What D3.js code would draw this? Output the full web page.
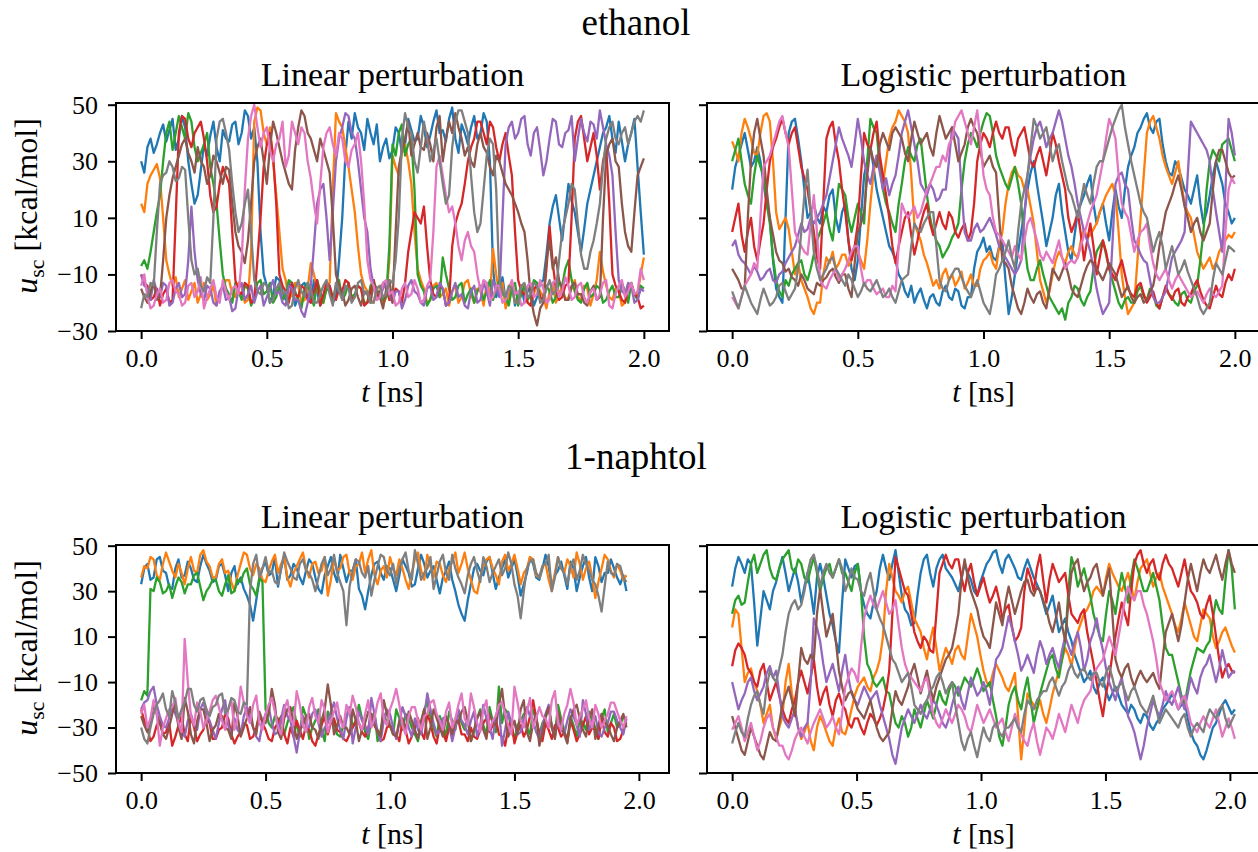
<!DOCTYPE html>
<html>
<head>
<meta charset="utf-8">
<script src="https://cdn.jsdelivr.net/npm/d3@7"></script>
<style>
  body { margin: 0; background: #fff; }
  text { font-family: "Liberation Serif", "Times New Roman", serif; fill: #000; }
</style>
</head>
<body>
<div id="chart"></div>
<script>
// tab10, in plotting order: blue, orange, green, red, purple, brown, pink, gray
const colors = ["#1f77b4", "#ff7f0e", "#2ca02c", "#d62728", "#9467bd", "#8c564b", "#e377c2", "#7f7f7f"];

const molecules = ["ethanol", "1-naphtol"];
const titles = ["Linear perturbation", "Logistic perturbation"];
const xTicks = [0, 0.5, 1.0, 1.5, 2.0];
const yTicksEthanol = [-30, -10, 10, 30, 50];
const yTicksNaphtol = [-50, -30, -10, 10, 30, 50];

// u_sc [kcal/mol], one row per replica, sampled every 0.0125 ns from 0 to 2.0 ns
const ethanolLinear = [
  [30,26,35,38,33,36,40,43,37,41,45,34,38,46,42,30,22,15,18,27,36,32,39,44,35,30,41,38,37,43,44,36,40,48,46,38,42,30,5,-10,-14,-20,-17,-11,-12,-16,-19,-13,-15,-21,-18,-14,-13,-17,-20,-12,-16,-21,-19,-15,-14,-20,-18,-5,10,32,44,38,47,42,40,34,45,40,36,43,30,35,38,31,34,42,40,33,36,45,41,37,38,46,42,35,39,44,48,40,41,37,45,49,38,33,43,40,36,42,46,38,40,47,44,30,-8,-18,-15,-11,-19,-16,-13,-21,-17,-14,-20,-16,-14,-21,-18,-13,-12,-3,8,14,18,10,2,12,22,16,12,5,-2,6,15,20,25,30,35,40,42,46,38,33,44,37,30,36,40,45,28,12,-3],
  [15,12,22,25,27,29,24,10,-5,-10,-14,-11,-18,-15,-12,-19,-16,-13,-20,-17,-13,-19,-17,-14,-21,-16,-15,-12,-12,-17,-18,-13,-14,-20,-19,-2,44,49,48,40,36,42,30,18,5,-8,-12,-19,-17,-13,-14,-20,-19,-15,-6,-10,-15,-18,-20,-14,-13,20,47,44,42,35,28,20,12,0,-10,-14,-16,-19,-20,-15,-14,-21,-18,-5,32,28,25,33,36,30,22,5,-8,-12,-15,-20,-19,-14,-13,-18,-17,-15,-21,-16,-14,-20,-18,-13,-12,-17,-20,-15,-16,-21,-13,-18,-1,-10,-17,-13,-22,-18,-14,-20,-19,-14,-15,-20,-21,-17,-13,-16,-18,-22,-16,-13,-20,-17,-14,-19,-18,-15,-12,-18,-19,-14,-15,-21,-17,-12,-2,-9,-14,-18,-19,-15,-16,-21,-20,-14,-13,-17,-17,-10,-4],
  [-7,-5,-8,-2,5,12,18,30,40,44,34,40,46,42,38,47,44,35,30,33,36,40,28,22,15,2,-10,-15,-17,-20,-13,-16,-19,-14,-15,-21,-18,-13,-12,-17,-16,-13,-20,-18,-14,-19,-17,-12,-13,-16,-19,-22,-15,-13,-18,-21,-12,-16,-20,-15,-16,-19,-14,-12,-19,-17,-13,-18,-17,-14,-15,-20,-20,-14,-12,-17,-16,-19,-18,0,36,32,40,43,32,36,38,20,-10,-14,-16,-21,-19,-15,-14,-18,-4,-10,-15,-19,-18,-14,-13,-20,-17,-15,-20,-16,-14,-19,-16,-12,-19,-15,-12,-17,-18,-21,-15,-13,-21,-17,-14,-19,-17,-12,-13,-18,-19,-14,-16,-20,-18,-13,-14,-8,-5,-12,-16,-19,-20,-15,-13,-18,-17,-14,-15,-20,-19,-16,-14,-18,-18,-13,-16,-20,-13,-17,-19,-14,-15],
  [-10,-13,-14,-19,-18,-15,-21,-17,-15,-20,-19,10,40,46,45,38,35,40,42,44,38,30,18,12,14,22,28,25,22,5,-12,-16,-17,-13,-14,-20,-19,-5,10,28,36,40,32,15,-10,-14,-16,-20,-13,-17,-18,-14,-15,-19,-20,-16,-12,-21,-17,-13,-14,-18,-19,-15,-16,-12,-13,-19,-18,-14,-15,-21,-20,-16,-12,-18,-17,-13,-14,-19,-19,-15,-16,-20,-13,-2,5,12,10,8,14,0,-12,-17,-18,-14,-15,-21,-20,0,8,12,15,22,30,35,38,44,44,40,36,44,42,35,30,36,40,32,25,5,-12,-16,-17,-20,-21,-15,-14,-18,-19,-8,7,-6,-15,-19,-18,-14,-13,10,38,44,46,38,30,35,40,32,20,30,35,15,-10,-14,-16,-19,-20,-15,-14,-17,-18,-22,-21],
  [-10,-14,-15,-19,-12,-16,-18,-13,-14,-21,-20,-15,-13,-18,-17,-5,14,-2,-12,-17,-19,-14,-15,-20,-21,-16,-14,-19,-18,-23,-22,-15,-13,-19,-17,-14,-20,-16,-14,-21,-18,-15,-12,-17,-16,-20,-21,-14,-15,-19,-19,-23,-25,-20,-14,0,15,20,22,10,-5,12,30,38,42,47,46,40,38,30,20,10,5,-8,-14,-19,-18,-15,-13,-17,-20,-16,-16,-22,-19,-14,-12,-16,-17,-20,-21,-15,-14,-19,-18,-13,-15,-21,-20,-16,-13,-18,-17,-21,-22,-16,-14,-20,-19,-13,-16,-21,-12,-15,-18,10,36,42,44,38,40,45,46,36,32,40,42,34,25,30,38,45,44,36,35,40,41,46,30,38,45,40,37,44,43,38,48,42,36,32,25,5,-12,-16,-17,-13,-14,-20,-19,-15,-16],
  [-15,-18,-20,-16,-13,-19,-18,-5,10,18,24,28,32,36,38,33,30,26,35,30,28,22,25,32,30,26,22,28,27,15,5,0,-2,-6,2,15,30,35,38,30,22,35,44,40,35,30,26,22,20,34,42,48,46,40,38,34,30,38,34,30,26,10,-10,-14,-16,-21,-19,-15,-14,-18,-21,-16,-17,-20,-13,-15,-18,-22,-15,-12,-20,5,28,34,38,44,32,36,40,35,34,40,36,30,42,46,30,38,44,40,47,42,38,32,35,30,28,36,40,35,33,28,25,32,30,26,22,20,18,15,12,8,5,-5,-18,-24,-28,-22,-20,-5,2,-8,-4,-12,-15,-19,-19,-14,-13,-17,-17,-20,-21,-16,-14,-19,-18,10,32,36,38,30,28,15,5,0,-2,12,25,28,31],
  [-14,-10,-18,-22,-21,-17,-15,-20,-19,-13,-12,-16,-17,-21,-20,-14,-13,-18,-16,-11,-22,-18,-15,-12,-18,-20,-12,-16,-19,-15,-14,-17,-5,20,38,46,50,42,35,40,42,34,30,36,38,44,28,32,44,40,36,42,40,30,24,15,8,22,35,40,42,36,32,40,38,30,28,34,36,40,30,15,-5,-12,-14,-19,-18,-13,-12,-17,-16,-21,-20,-15,-13,-18,-17,-12,-15,-20,-19,-14,-12,5,28,32,25,18,12,14,8,0,-5,2,5,0,-2,-10,-16,-12,-13,-19,-18,-14,-14,-20,-19,-15,-12,-17,-16,-21,-20,-14,-13,-18,-17,-12,-15,-20,-19,-13,-12,-18,-16,-11,-14,-19,-18,-14,-13,-18,-20,-16,-15,-19,-17,-13,-12,-21,-22,-17,-14,-12,-18,-16,-13,-17,-16,-8,-12],
  [-22,-17,-18,-13,-14,5,22,25,26,30,28,23,24,28,27,10,-5,-10,-8,-14,-16,-11,-13,10,38,44,45,40,34,22,12,5,8,15,20,5,-12,-16,-17,-13,-14,-20,-19,-15,-13,-17,-16,-22,-21,-15,-12,-16,-18,-13,-15,-20,-20,-17,-14,-12,-17,-21,-13,-16,-19,-14,-15,-20,-18,-13,-12,-17,-16,-20,-20,-15,-14,-18,-17,-12,-13,-5,10,38,47,42,40,30,26,35,44,38,30,34,38,30,22,15,18,35,44,48,48,44,40,25,12,5,8,20,32,38,36,20,-12,-16,-18,-14,-15,-20,-20,-14,-13,-18,-17,-13,-14,-20,-19,-15,-12,-17,-16,-5,5,10,15,22,20,8,-3,-8,-8,-2,2,8,15,28,38,42,44,38,36,40,42,36,40,44,46,44,48]
];

const ethanolLogistic = [
  [20,28,32,36,40,34,28,30,35,30,22,15,10,-5,-15,-18,-20,10,40,44,45,38,30,20,10,12,15,10,8,14,12,18,20,10,5,12,15,2,-8,-12,-5,10,25,30,35,28,20,15,10,5,0,-2,-5,-10,-12,-16,-18,-14,-20,-17,-15,-19,-22,-18,-17,-20,-21,-16,-14,-18,-19,-15,-16,-21,-22,-18,-18,-8,-2,0,3,-2,0,-4,-5,0,2,-12,-24,-18,-10,-2,5,12,20,26,30,22,15,8,0,5,10,18,22,12,5,-2,-5,4,12,15,18,22,25,15,8,12,15,8,2,12,20,14,10,20,28,32,35,40,42,45,47,42,40,44,45,36,30,26,25,30,28,24,20,18,15,20,25,15,8,12,18,25,30,26,22,15,12,8,10],
  [37,34,30,40,45,42,38,33,32,40,46,47,44,30,12,6,8,10,6,-2,-10,-6,-12,-15,-18,-22,-24,-20,-20,-10,-4,-6,-2,-8,-6,-3,-3,-7,-5,0,-2,-5,-8,2,15,26,32,28,22,30,38,42,44,48,46,44,40,25,8,5,2,-3,-6,-10,-14,-12,-15,-10,-8,-12,-10,-14,-12,-9,-15,-13,-10,-14,-14,-8,-5,-4,-2,-6,-8,0,5,15,22,26,28,25,24,20,20,14,8,-2,-12,-16,-20,-16,-10,-5,-2,-4,-6,-2,0,-3,-4,2,6,3,4,6,8,12,15,18,20,22,18,5,-10,-18,-24,-22,-20,-5,10,25,40,44,46,42,38,32,28,25,22,26,30,22,15,12,10,4,-2,-5,-8,-6,-4,-8,-6,-2,0,2,4,3,5],
  [30,34,38,30,22,18,15,25,32,28,25,15,8,-4,-12,-16,-18,-12,-14,-10,-8,-6,-5,-10,-12,-8,-3,2,5,8,12,6,2,12,22,20,18,10,5,10,15,12,8,30,45,42,40,28,20,15,12,8,5,15,22,30,35,32,30,36,38,28,18,10,5,2,0,-4,-2,0,3,5,8,20,30,36,40,38,35,40,44,47,46,40,32,28,25,22,20,24,28,22,15,2,-8,-12,-12,-8,-5,-10,-14,-18,-20,-22,-24,-22,-26,-20,-18,-14,-15,-19,-21,-18,-16,-8,-2,0,2,-3,-8,-12,-16,-20,-22,-19,-18,-20,-20,-16,-14,-18,-19,-15,-17,-21,-22,-18,-15,-17,-18,-20,-21,-17,-16,-19,-20,-16,-14,-5,5,20,30,34,32,30,36,37,38,34,30],
  [5,10,15,4,-2,5,10,0,-5,2,8,20,30,35,38,42,45,40,36,40,42,35,28,24,20,12,5,-4,-8,15,38,42,44,36,30,20,12,2,-5,0,8,25,40,36,34,40,44,32,25,18,10,0,-6,0,5,10,12,4,-3,2,8,12,15,8,4,8,12,8,6,12,10,5,3,6,8,2,5,15,30,36,40,38,35,40,44,40,38,42,42,36,32,38,40,42,36,30,28,32,35,30,25,32,40,36,30,25,20,10,5,8,12,4,-5,2,8,0,-10,-4,2,-2,-8,-10,-12,-8,-5,-10,-15,-17,-18,-14,-13,-17,-20,-18,-16,-20,-22,-18,-14,-17,-19,-16,-15,-20,-21,-18,-17,-14,-12,-16,-19,-21,-22,-18,-14,-17,-18,-13,-10,-12,-8],
  [0,2,-3,-5,-6,-8,-10,-7,-9,-12,-11,-9,-8,-12,-13,-10,-9,-6,-4,-2,0,4,8,5,6,10,8,10,12,15,18,24,30,36,42,38,35,32,28,36,45,38,30,25,22,28,32,26,20,24,18,22,25,32,40,44,48,42,36,30,22,20,18,22,20,16,17,20,20,30,42,40,38,20,5,2,2,6,8,5,6,8,10,7,4,0,-2,-4,-6,-8,-10,-8,-5,10,25,32,38,42,44,40,35,38,40,44,48,44,38,32,28,22,15,10,5,2,-2,-8,-15,-20,-24,-22,-20,0,22,25,26,22,20,10,2,0,-3,-5,-6,-12,-18,-20,-20,-18,-16,-10,-4,-2,0,2,5,25,44,42,40,38,36,34,30,20,12,5,-2,20,45,40,32],
  [-8,-10,-12,-15,-15,10,30,40,45,38,32,20,10,4,-2,-5,-6,-9,-8,-11,-12,-14,-10,-12,-15,-16,-17,-13,-14,-12,-11,-9,-8,-11,-13,-10,-10,-15,-18,-6,5,8,12,25,35,30,28,36,40,37,34,40,42,40,38,33,30,38,44,40,36,38,40,35,32,40,46,42,38,40,42,36,30,33,36,42,45,42,40,34,28,30,32,28,26,10,-5,-6,-8,-14,-18,-22,-24,-20,-15,-18,-20,-17,-16,-20,-22,-15,-8,-10,-12,-9,-6,-10,-15,-17,-18,-14,-10,-7,-5,-6,-8,-10,-12,-9,-6,-8,-10,-14,-18,-16,-14,-18,-20,-18,-17,-20,-19,-16,-14,-8,0,6,12,15,18,22,25,20,14,10,5,8,10,5,2,5,8,20,30,34,34,30,26,24,25],
  [-18,-20,-22,-18,-14,-12,-10,-6,-8,10,28,30,32,36,40,44,46,40,35,20,5,2,0,-2,-3,8,18,5,-12,-14,-15,-12,-10,-8,-12,-10,-8,-5,-2,0,0,-8,-14,-12,-12,-15,-17,-16,-15,-18,-18,-14,-16,0,15,12,10,12,14,10,12,16,20,22,25,28,28,32,30,36,38,44,46,48,44,40,36,42,48,38,25,20,18,10,5,4,2,0,-2,-4,0,-3,-5,2,8,10,6,2,-3,-5,-2,-4,-6,-2,2,-4,-8,-6,-5,-6,-4,0,4,8,12,15,18,24,30,38,45,42,38,25,15,12,10,4,-2,2,5,6,8,0,-6,-10,-12,-10,-8,-12,-15,-12,-10,-12,-14,-16,-18,-17,-16,-18,-20,-17,-15,-17,-18,-16,-14,5,20,24,22],
  [-16,-19,-22,-18,-14,-17,-20,-22,-24,-19,-15,-18,-21,-20,-18,-14,-13,-16,-19,-17,-15,-8,5,18,27,12,-2,-8,-12,-10,-8,-5,-4,-8,-10,-12,-14,-10,-12,-15,-18,-16,-13,-15,-16,-14,-12,-15,-18,-17,-15,-18,-20,-16,-12,-11,-10,0,8,6,5,8,10,12,12,0,-12,-15,-16,-12,-10,-8,-8,-11,-14,-16,-18,-15,-12,-16,-20,-22,-24,-18,-10,-8,-5,-2,2,-4,-8,5,15,20,25,35,45,42,38,40,42,36,30,34,36,30,25,20,18,14,10,16,22,18,15,22,28,30,30,34,38,42,45,48,50,42,36,30,25,20,15,12,10,4,-2,2,5,0,-8,-4,0,-5,-10,-8,-5,-9,-12,-15,-18,-22,-24,-22,-20,-12,-6,-8,-10,-5,0,-1,-2]
];

// sampled every 0.0125 ns from 0 to 1.95 ns
const naphtolLinear = [
  [33,40,42,35,36,44,45,39,38,32,31,40,44,36,37,43,40,35,34,41,46,42,39,34,35,41,42,37,30,38,41,33,36,31,28,24,17,26,35,40,43,37,38,45,32,40,45,35,37,42,40,36,33,39,44,42,36,31,29,37,41,45,38,34,46,40,34,39,39,44,31,28,22,30,37,42,43,38,35,41,40,35,30,37,44,41,38,32,33,40,46,42,36,39,41,35,29,36,39,43,35,30,24,20,17,26,33,40,42,39,37,43,45,38,31,36,40,44,36,40,44,37,28,33,38,45,42,36,35,40,46,41,32,37,39,43,37,31,43,40,30,36,41,45,36,30,45,41,34,38,38,44,40,36,33,37,30],
  [36,41,40,45,44,37,35,42,47,43,39,36,42,38,33,40,45,39,38,46,48,43,41,36,36,42,44,38,39,34,30,37,42,47,46,40,37,42,40,35,34,39,43,46,38,42,45,36,32,38,41,44,47,40,36,42,43,38,39,45,28,35,44,39,40,45,46,38,35,41,42,47,38,44,48,37,33,39,41,36,45,40,37,44,40,35,31,38,44,47,39,35,46,41,36,43,42,37,34,40,43,47,38,42,47,40,35,30,29,36,41,44,45,40,37,33,43,46,39,42,46,40,33,38,40,45,44,37,36,41,42,35,30,38,45,40,38,44,41,36,47,42,35,40,43,36,27,34,40,46,44,39,36,42,39,35,37],
  [-18,-14,-16,31,30,36,34,29,30,33,27,32,36,34,29,33,33,37,38,32,26,30,32,35,35,30,28,33,37,29,30,35,34,38,40,33,31,28,36,34,-22,-28,-30,-25,-26,-33,-33,-28,-24,-21,-29,-34,-21,-25,-35,-30,-27,-22,-31,-36,-23,-27,-28,-33,-34,-29,-25,-21,-30,-27,-20,-26,-32,-35,-27,-23,-36,-31,-24,-28,-29,-33,-22,-26,-31,-24,-26,-30,-33,-36,-28,-22,-19,-25,-30,-34,-25,-29,-34,-23,-27,-31,-23,-28,-31,-25,-36,-32,-26,-22,-29,-33,-21,-27,-32,-12,-28,-22,-24,-30,-35,-29,-27,-24,-30,-33,-22,-26,-33,-28,-26,-21,-29,-34,-20,-26,-31,-36,-25,-29,-34,-26,-28,-31,-23,-27,-30,-35,-26,-22,-32,-28,-24,-30,-29,-25,-27],
  [-22,-27,-30,-36,-34,-29,-27,-33,-32,-28,-38,-34,-29,-25,-33,-36,-25,-30,-36,-33,-31,-26,-28,-35,-35,-31,-30,-24,-26,-33,-37,-34,-32,-28,-29,-35,-34,-30,-24,-28,-31,-35,-36,-30,-28,-25,-33,-37,-30,-34,-27,-31,-35,-29,-31,-36,-38,-33,-29,-25,-33,-28,-26,-31,-32,-35,-36,-33,-30,-27,-28,-32,-34,-30,-25,-29,-31,-36,-35,-30,-29,-32,-33,-36,-27,-31,-37,-34,-30,-26,-32,-35,-24,-28,-34,-37,-29,-32,-36,-30,-31,-26,-27,-33,-33,-36,-30,-34,-35,-31,-28,-26,-32,-29,-26,-33,-34,-38,-30,-27,-37,-32,-29,-34,-31,-25,-18,-26,-33,-36,-28,-31,-35,-29,-30,-34,-32,-36,-27,-31,-36,-33,-29,-25,-33,-30,-31,-35,-26,-32,-34,-28,-30,-36,-35,-31,-28],
  [-22,-19,-18,-14,-12,-20,-25,-29,-30,-26,-20,-24,-28,-32,-34,-27,-24,-29,-31,-22,-19,-24,-27,-31,-35,-28,-22,-18,-29,-33,-26,-31,-33,-25,-21,-26,-30,-34,-36,-28,-24,-21,-28,-33,-32,-26,-20,-25,-27,-34,-41,-32,-25,-29,-30,-24,-22,-28,-34,-30,-28,-23,-19,-26,-31,-35,-26,-21,-37,-30,-23,-27,-29,-33,-17,-24,-32,-36,-27,-22,-24,-30,-35,-28,-21,-25,-30,-34,-26,-31,-33,-25,-15,-22,-28,-33,-31,-26,-25,-29,-36,-30,-22,-27,-29,-33,-27,-23,-34,-29,-20,-26,-30,-35,-25,-21,-38,-31,-23,-28,-28,-33,-32,-26,-21,-25,-27,-32,-35,-29,-24,-20,-30,-34,-26,-31,-33,-27,-22,-25,-29,-34,-18,-24,-31,-27,-25,-32,-34,-30,-28,-23,-23,-27,-30,-33,-26],
  [-25,-29,-32,-27,-20,-24,-28,-33,-35,-30,-24,-19,-30,-35,-17,-23,-33,-37,-27,-22,-22,-28,-36,-31,-29,-24,-25,-30,-31,-35,-19,-25,-34,-30,-26,-21,-30,-33,-23,-27,-28,-24,-13,-20,-32,-35,-26,-22,-21,-28,-35,-31,-29,-25,-24,-30,-31,-35,-27,-22,-11,-20,-33,-29,-25,-30,-30,-33,-22,-27,-36,-31,-28,-23,-24,-29,-32,-34,-18,-24,-29,-33,-34,-27,-26,-31,-23,-27,-31,-35,-27,-22,-35,-30,-22,-26,-30,-34,-25,-29,-33,-27,-28,-23,-21,-27,-36,-31,-26,-23,-31,-35,-24,-28,-29,-20,-13,-25,-34,-30,-27,-33,-22,-18,-32,-36,-28,-24,-38,-32,-25,-21,-30,-35,-23,-28,-33,-37,-27,-22,-20,-26,-31,-34,-26,-22,-35,-29,-24,-28,-29,-33,-36,-30,-27,-24,-30],
  [-24,-20,-30,-26,-18,-24,-38,-30,-26,-22,-21,-17,-28,-32,9,-10,-25,-29,-19,-23,-30,-27,-23,-18,-16,-21,-27,-31,-22,-18,-31,-26,-12,-19,-25,-28,-20,-16,-28,-31,-24,-20,-17,-23,-30,-33,-22,-18,-26,-29,-14,-20,-29,-32,-21,-17,-25,-28,-18,-22,-32,-27,-23,-19,-27,-30,-20,-24,-16,-21,-28,-31,-24,-18,-30,-26,-19,-15,-26,-29,-22,-18,-13,-20,-29,-33,-25,-21,-21,-27,-31,-25,-24,-19,-18,-24,-27,-31,-23,-19,-30,-26,-20,-15,-26,-29,-15,-21,-28,-32,-22,-18,-31,-27,-25,-20,-19,-24,-29,-33,-12,-19,-27,-30,-23,-17,-30,-26,-21,-25,-26,-30,-18,-14,-28,-31,-24,-20,-13,-19,-29,-25,-22,-18,-26,-30,-20,-24,-30,-27,-24,-19,-19,-23,-27,-30,-25],
  [-30,-35,-37,-30,-24,-20,-18,-15,-22,-25,-14,-19,-26,-22,-19,-13,-13,-20,-23,-18,-17,-22,-25,-21,-20,-16,-15,-24,-22,-17,-18,-23,-24,-19,-20,30,42,46,36,40,45,38,39,34,33,40,47,43,40,36,35,42,44,39,38,35,30,36,42,45,37,40,46,38,34,30,15,32,39,44,43,38,36,41,28,35,41,46,45,39,37,42,33,40,44,47,39,35,48,42,35,38,40,45,31,37,43,46,38,35,46,40,36,33,29,37,42,45,39,34,45,41,34,38,41,44,37,40,47,42,33,28,18,30,40,43,44,38,36,41,42,46,30,36,45,40,38,33,41,44,35,39,46,42,39,35,33,28,21,32,43,38,37,42,41,36,34]
];

// 161 samples from 0 to 2.02 ns
const naphtolLogistic = [
  [32,40,45,42,38,44,42,25,6,18,30,26,22,30,34,40,45,38,30,35,40,34,25,32,38,30,20,36,42,36,28,20,15,8,3,25,44,40,36,41,42,30,24,20,18,25,30,40,46,40,35,42,48,38,28,22,20,15,16,28,38,44,46,38,32,40,44,46,40,38,36,33,30,36,42,38,35,30,28,34,38,42,44,47,48,42,38,44,46,43,40,36,35,40,44,40,36,33,30,25,20,24,28,20,12,15,18,12,8,2,-2,-6,-10,-8,-5,-12,-15,-10,-8,-14,-18,-15,-12,-16,-20,-22,-24,-20,-22,-26,-28,-24,-25,-29,-31,-28,-26,-22,-20,-18,-15,-18,-22,-20,-18,-26,-32,-36,-38,-42,-44,-40,-35,-30,-28,-24,-20,-18,-21,-24,-22],
  [14,22,20,5,-10,-6,-4,-10,-14,-20,-28,-24,-20,-30,-35,-30,-25,-10,-2,-15,-22,-30,-35,-32,-28,-36,-40,-30,-25,-28,-32,-36,-38,-30,-26,-32,-33,-28,-22,-16,-12,-10,-8,-12,-14,-8,-5,0,10,30,42,36,30,28,25,30,32,25,18,15,12,5,0,8,14,5,-5,0,5,2,-2,4,6,2,0,10,20,15,10,2,-5,-10,-12,-6,-2,-5,-8,-12,-14,-10,-6,-25,-44,-30,-15,-18,-20,-22,-18,-24,-28,-22,-15,-10,-5,0,5,2,-3,5,12,16,20,22,25,30,32,30,28,36,42,38,35,32,30,34,38,32,26,34,40,42,44,38,32,36,38,32,28,24,20,15,12,18,25,20,15,10,8,15,22,20,18,10,5,8,12,14,10,6,3],
  [20,26,28,24,25,34,42,46,38,42,46,48,40,36,35,40,44,46,48,40,38,44,42,36,34,40,45,38,30,36,40,42,36,40,44,38,38,34,30,38,42,30,10,-2,-5,-10,-12,-10,-8,-14,-15,-22,-28,-30,-25,-28,-34,-30,-22,-26,-30,-24,-18,-22,-26,-20,-14,-18,-20,-14,-10,-12,-16,-12,-8,-10,-12,-8,-4,-8,-14,-12,-10,-18,-25,-34,-38,-30,-20,-15,-12,-18,-22,-14,-8,-18,-28,-22,-15,-10,-5,0,2,-4,-8,0,8,30,45,40,32,36,40,34,28,20,15,10,8,20,30,26,20,30,38,32,25,36,44,40,35,30,30,34,38,32,26,15,5,2,2,-4,-10,-16,-20,-12,-5,0,5,4,3,6,8,18,26,22,20,35,48,40,22],
  [-3,4,7,5,2,-4,-6,-10,-12,-5,-2,-10,-18,-14,-10,-16,-22,-26,-28,-22,-18,-10,-5,-10,-15,-8,0,-12,-20,-15,-12,-20,-25,-18,-15,-20,-22,-28,-30,-26,-26,-30,-33,-28,-24,-26,-29,-26,-22,-15,-5,20,45,40,35,30,28,20,12,8,5,10,8,4,3,20,38,42,46,42,40,44,44,36,30,38,42,34,28,32,36,30,25,28,32,26,18,22,24,15,8,10,14,30,40,36,30,40,46,35,25,35,42,38,34,36,38,28,20,18,16,20,22,12,5,-2,-10,-18,-25,-15,-8,2,10,18,25,20,15,30,42,46,48,42,38,42,44,38,35,42,46,42,40,36,32,38,44,36,30,28,25,20,18,24,28,20,10,0,-8,-4,-2,-5,-6],
  [-10,-16,-22,-18,-15,-10,-8,-14,-18,-15,-12,-6,-3,-8,-5,-15,-25,-28,-30,-26,-22,-30,-34,-30,-28,-10,18,14,8,-2,-10,-6,-2,-8,-14,-5,2,-8,-15,-18,-20,-16,-12,-15,-18,-16,-14,-20,-25,-30,-35,-42,-46,-38,-30,-26,-22,-25,-28,-24,-20,-24,-26,-22,-18,-20,-24,-28,-30,-26,-20,-15,-12,-18,-22,-15,-8,-12,-16,-14,-10,-14,-20,-10,0,2,5,12,19,14,8,2,-5,-2,2,-2,-6,2,8,4,-2,2,5,0,-4,4,10,6,2,8,12,5,-5,0,8,12,18,10,4,-4,-10,-14,-18,-12,-8,-16,-25,-28,-32,-38,-44,-38,-30,-24,-18,-22,-25,-20,-14,-18,-20,-16,-12,-18,-22,-15,-8,-12,-15,-8,-4,-2,2,-4,-10,-4,4,-2,-8,-6,-5],
  [-25,-30,-35,-40,-42,-36,-30,-34,-38,-42,-44,-38,-32,-35,-36,-28,-20,-16,-12,-18,-25,-10,5,0,-2,2,0,20,31,20,10,15,20,8,-5,-12,-18,-15,-14,-18,-22,-24,-26,-22,-18,-24,-30,-34,-36,-34,-32,-22,-14,-18,-20,-16,-12,-6,-2,-8,-15,-10,-5,-12,-18,-12,-8,-4,0,2,5,12,20,35,44,36,30,26,22,15,10,8,5,15,25,20,15,25,32,26,20,25,30,34,35,30,28,32,30,26,22,16,12,18,25,15,8,25,38,42,44,36,30,34,36,40,42,35,28,34,40,20,0,-5,-8,-4,-2,-8,-12,-8,-5,-8,-10,-8,-6,-10,-13,0,12,16,20,14,8,15,25,35,42,36,30,38,44,40,38,42,46,40,35,42,48,42,38],
  [-31,-28,-25,-30,-36,-32,-28,-34,-40,-36,-30,-26,-24,-30,-34,-38,-38,-42,-44,-40,-35,-32,-30,-34,-37,-32,-28,-25,-22,-26,-30,-28,-25,-30,-33,-24,-12,-8,-4,-6,-10,5,18,24,28,24,22,26,30,25,20,22,26,15,5,-2,-6,-8,-10,-12,-14,-10,-8,-16,-24,-28,-30,-26,-22,-25,-28,-24,-20,-22,-25,-30,-32,-26,-20,-24,-28,-25,-22,-26,-30,-28,-26,-32,-36,-30,-24,-28,-33,-36,-38,-32,-28,-36,-42,-36,-30,-32,-35,-30,-24,-28,-32,-26,-20,-24,-28,-22,-18,-16,-14,-8,-4,-2,0,5,10,6,2,10,18,26,32,28,26,30,30,24,20,14,8,0,-10,-14,-18,-16,-14,-18,-22,-18,-16,-22,-28,-30,-32,-28,-25,-28,-30,-26,-22,-28,-34,-30,-26,-30,-35],
  [-37,-32,-28,-32,-34,-26,-20,-16,-14,-20,-24,-12,-5,-8,-10,-4,2,12,20,24,26,22,24,30,38,44,46,40,32,38,42,38,36,40,44,40,30,34,40,36,35,30,28,34,38,30,22,18,15,10,5,0,-2,-6,-10,-8,-6,-12,-20,-22,-24,-20,-18,-14,-12,-8,-6,-10,-15,-12,-10,-20,-28,-36,-40,-35,-32,-38,-43,-36,-30,-34,-36,-30,-28,-32,-34,-30,-30,-28,-26,-30,-32,-24,-18,-20,-22,-18,-16,-14,-14,-10,-8,-12,-16,-12,-10,-5,-2,-6,-8,-5,-4,-7,-9,-6,-6,-10,-12,-6,-3,-8,-14,-12,-10,-14,-18,-14,-12,-16,-20,-22,-24,-20,-16,-22,-28,-25,-22,-24,-26,-28,-30,-26,-24,-30,-34,-30,-28,-30,-32,-26,-22,-24,-26,-22,-20,-26,-30,-27,-24]
];

const width = 1258, height = 852;
const panelW = 553, panelH = 228;
const rows = [
  { top: 103, label: molecules[0], labelY: 35, yDomain: [-30, 50.6], yTicks: yTicksEthanol, xDomain: [-0.1, 2.1],
    panels: [{ data: ethanolLinear, tEnd: 2.0 }, { data: ethanolLogistic, tEnd: 2.0 }] },
  { top: 545, label: molecules[1], labelY: 469, yDomain: [-50, 50.3], yTicks: yTicksNaphtol, xDomain: [-0.101, 2.121],
    panels: [{ data: naphtolLinear, tEnd: 1.95 }, { data: naphtolLogistic, tEnd: 2.02 }] }
];
const lefts = [116, 707];
const serif = "'Liberation Serif', 'Times New Roman', serif";

const svg = d3.select("#chart")
  .append("svg")
    .attr("width", width)
    .attr("height", height)
    .style("font-family", serif);

const fmt = d => d3.format(".1f")(d);
const fmtY = d => (d < 0 ? "\u2212" + Math.abs(d) : "" + d);

rows.forEach((row, r) => {
  svg.append("text")
    .attr("x", 636)
    .attr("y", row.labelY)
    .attr("text-anchor", "middle")
    .style("font-size", "37px")
    .text(row.label);

  row.panels.forEach((p, c) => {
    const x0 = lefts[c];
    const g = svg.append("g").attr("transform", `translate(${x0},${row.top})`);

    const x = d3.scaleLinear().domain(row.xDomain).range([0, panelW]);
    const y = d3.scaleLinear().domain(row.yDomain).range([panelH, 0]);

    const line = d3.line()
      .x((d, i, arr) => x(i * p.tEnd / (arr.length - 1)))
      .y(d => y(d));

    g.selectAll("path.series")
      .data(p.data)
      .enter()
      .append("path")
        .attr("class", "series")
        .attr("d", d => line(d))
        .attr("fill", "none")
        .attr("stroke", (d, i) => colors[i])
        .attr("stroke-width", 2.3)
        .attr("stroke-linejoin", "round");

    // axes
    const xAxis = d3.axisBottom(x).tickValues(xTicks).tickFormat(fmt).tickSize(8).tickPadding(10);
    const gx = g.append("g").attr("transform", `translate(0,${panelH})`).call(xAxis);
    const yAxis = d3.axisLeft(y).tickValues(row.yTicks).tickSize(8).tickPadding(10)
      .tickFormat(c === 0 ? fmtY : "");
    const gy = g.append("g").call(yAxis);

    [gx, gy].forEach(a => {
      a.attr("font-family", serif).attr("font-size", 26);
      a.select(".domain").remove();
      a.selectAll(".tick line").attr("stroke", "#000").attr("stroke-width", 2);
      a.selectAll(".tick text")
        .style("font-family", serif)
        .style("font-size", "26px")
        .attr("fill", "#000");
    });

    g.append("rect")
      .attr("width", panelW)
      .attr("height", panelH)
      .attr("fill", "none")
      .attr("stroke", "#000")
      .attr("stroke-width", 2);

    g.append("text")
      .attr("x", panelW / 2)
      .attr("y", -17)
      .attr("text-anchor", "middle")
      .style("font-size", "34px")
      .text(titles[c]);

    const xl = g.append("text")
      .attr("x", panelW / 2)
      .attr("y", panelH + 71)
      .attr("text-anchor", "middle")
      .style("font-size", "30px");
    xl.append("tspan").style("font-style", "italic").text("t");
    xl.append("tspan").text(" [ns]");

    if (c === 0) {
      const yl = g.append("text")
        .attr("transform", `translate(-79,${panelH / 2 - 11}) rotate(-90)`)
        .attr("text-anchor", "middle")
        .style("font-size", "32px");
      yl.append("tspan").style("font-style", "italic").text("u");
      yl.append("tspan").attr("dy", 7).style("font-size", "22px").text("sc");
      yl.append("tspan").attr("dy", -7).text(" [kcal/mol]");
    }
  });
});
</script>
</body>
</html>
